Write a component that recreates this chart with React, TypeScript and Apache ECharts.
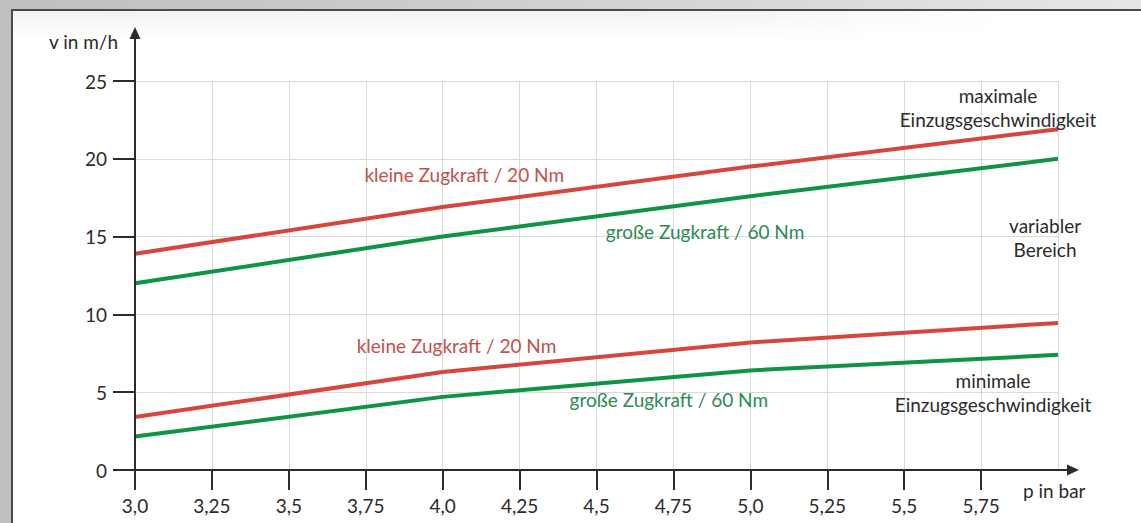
import React, { useEffect, useRef } from "react";
import * as echarts from "echarts";

// ---- data ----
const pressure = [3.0, 4.0, 5.0, 6.0];
const maxSmallForce = [13.9, 16.9, 19.5, 21.9]; // kleine Zugkraft / 20 Nm (maximal)
const maxLargeForce = [12.0, 15.0, 17.6, 20.0]; // große Zugkraft / 60 Nm (maximal)
const minSmallForce = [3.4, 6.3, 8.2, 9.45]; // kleine Zugkraft / 20 Nm (minimal)
const minLargeForce = [2.15, 4.7, 6.4, 7.4]; // große Zugkraft / 60 Nm (minimal)

const xTickValues = [3.0, 3.25, 3.5, 3.75, 4.0, 4.25, 4.5, 4.75, 5.0, 5.25, 5.5, 5.75];
const xTickLabels = ["3,0", "3,25", "3,5", "3,75", "4,0", "4,25", "4,5", "4,75", "5,0", "5,25", "5,5", "5,75"];
const yTickValues = [0, 5, 10, 15, 20, 25];
const yTickLabels = ["0", "5", "10", "15", "20", "25"];

const seriesNames = [
  "kleine Zugkraft / 20 Nm",
  "große Zugkraft / 60 Nm",
  "kleine Zugkraft / 20 Nm",
  "große Zugkraft / 60 Nm",
];

// ---- styles / layout ----
const RED = "#d8453d";
const GREEN = "#0f9447";
const RED_TEXT = "#c4504a";
const GREEN_TEXT = "#2a8c55";
const INK = "#2b2b2b";
const FONT = "Lato, 'Open Sans', sans-serif";
const FS = 19;

// annotation anchors in axis units (layout only)
const annotations = [
  { text: "kleine Zugkraft / 20 Nm", x: 4.07, y: 18.96, color: RED_TEXT },
  { text: "große Zugkraft / 60 Nm", x: 4.853, y: 15.3, color: GREEN_TEXT },
  { text: "kleine Zugkraft / 20 Nm", x: 4.045, y: 8.0, color: RED_TEXT },
  { text: "große Zugkraft / 60 Nm", x: 4.735, y: 4.5, color: GREEN_TEXT },
  { text: "maximale\nEinzugsgeschwindigkeit", x: 5.805, y: 23.3, color: INK },
  { text: "variabler\nBereich", x: 5.958, y: 14.97, color: INK },
  { text: "minimale\nEinzugsgeschwindigkeit", x: 5.789, y: 4.98, color: INK },
];

export default function App() {
  const ref = useRef<HTMLDivElement>(null);

  useEffect(() => {
    if (!ref.current) return;
    const chart = echarts.init(ref.current, null, { renderer: "svg" });

    const mk = (name: string, vals: number[], color: string) => ({
      name,
      type: "line",
      data: pressure.map((p, i) => [p, vals[i]]),
      showSymbol: false,
      symbol: "none",
      lineStyle: { color, width: 4, cap: "butt" },
      itemStyle: { color },
      z: 5,
    });

    chart.setOption({
      animation: false,
      backgroundColor: "transparent",
      textStyle: { fontFamily: FONT },
      grid: { left: 135, right: 83, top: 81, bottom: 53, containLabel: false },
      xAxis: [
        {
          type: "value",
          min: 3,
          max: 6,
          interval: 0.25,
          axisLine: { show: false },
          axisTick: { show: false },
          axisLabel: { show: false },
          splitLine: { show: true, lineStyle: { color: "#dadada", width: 1 } },
        },
        {
          type: "value",
          min: 3,
          max: 6,
          interval: 0.25,
          position: "bottom",
          axisLine: { show: false },
          splitLine: { show: false },
          axisTick: {
            show: true,
            customValues: xTickValues,
            length: 20,
            lineStyle: { color: INK, width: 2 },
          },
          axisLabel: {
            show: true,
            customValues: xTickValues,
            margin: 26,
            fontSize: FS,
            fontFamily: FONT,
            color: INK,
            formatter: (v: number) => {
              const i = xTickValues.findIndex((t) => Math.abs(t - v) < 1e-6);
              return i >= 0 ? xTickLabels[i] : "";
            },
          },
        },
      ],
      yAxis: {
        type: "value",
        min: 0,
        max: 25,
        interval: 5,
        axisLine: { show: false },
        axisTick: { show: true, length: 22, lineStyle: { color: INK, width: 2 } },
        axisLabel: {
          margin: 28,
          fontSize: FS,
          fontFamily: FONT,
          color: INK,
          formatter: (v: number) => {
            const i = yTickValues.findIndex((t) => Math.abs(t - v) < 1e-6);
            return i >= 0 ? yTickLabels[i] : "";
          },
        },
        splitLine: { show: true, lineStyle: { color: "#dadada", width: 1 } },
      },
      series: [
        mk(seriesNames[0], maxSmallForce, RED),
        mk(seriesNames[1], maxLargeForce, GREEN),
        mk(seriesNames[2], minSmallForce, RED),
        mk(seriesNames[3], minLargeForce, GREEN),
      ],
    });

    const px = (x: number, y: number) => chart.convertToPixel({ gridIndex: 0 }, [x, y]) as number[];
    const origin = px(3, 0);
    const xEnd = px(6, 0);
    const yEnd = px(3, 25);
    const ax = origin[0];
    const ay = origin[1];
    const arrowX = xEnd[0] + 21;
    const arrowY = yEnd[1] - 54;

    const graphics: any[] = [
      {
        type: "line",
        z: 10,
        shape: { x1: ax, y1: ay, x2: arrowX - 8, y2: ay },
        style: { stroke: INK, lineWidth: 2 },
      },
      {
        type: "polygon",
        z: 10,
        shape: { points: [[arrowX, ay], [arrowX - 12, ay - 5.5], [arrowX - 12, ay + 5.5]] },
        style: { fill: INK },
      },
      {
        type: "line",
        z: 10,
        shape: { x1: ax, y1: ay, x2: ax, y2: arrowY + 8 },
        style: { stroke: INK, lineWidth: 2 },
      },
      {
        type: "polygon",
        z: 10,
        shape: { points: [[ax, arrowY], [ax - 5.5, arrowY + 12], [ax + 5.5, arrowY + 12]] },
        style: { fill: INK },
      },
      {
        type: "text",
        z: 10,
        style: {
          text: "v in m/h",
          x: ax - 17,
          y: arrowY + 14,
          fill: INK,
          font: `${FS}px ${FONT}`,
          textAlign: "right",
          align: "right",
          textVerticalAlign: "middle",
          verticalAlign: "middle",
        },
      },
      {
        type: "text",
        z: 10,
        style: {
          text: "p in bar",
          x: arrowX - 56,
          y: ay + 20,
          fill: INK,
          font: `${FS}px ${FONT}`,
          textAlign: "left",
          align: "left",
          textVerticalAlign: "middle",
          verticalAlign: "middle",
        },
      },
    ];

    annotations.forEach((a) => {
      const p = px(a.x, a.y);
      graphics.push({
        type: "text",
        z: 10,
        style: {
          text: a.text,
          x: p[0],
          y: p[1],
          fill: a.color,
          font: `${FS}px ${FONT}`,
          lineHeight: 24,
          textAlign: "center",
          align: "center",
          textVerticalAlign: "middle",
          verticalAlign: "middle",
        },
      });
    });

    chart.setOption({ graphic: graphics });

    return () => chart.dispose();
  }, []);

  return (
    <div
      style={{
        position: "fixed",
        left: 0,
        top: 0,
        width: 1141,
        height: 523,
        overflow: "hidden",
        background: "linear-gradient(90deg, #bfbfbf 0%, #cdcdcd 40%, #dcdcdc 75%, #e6e6e6 100%)",
      }}
    >
      <div
        style={{
          position: "absolute",
          left: 11,
          top: 9,
          width: 1140,
          height: 520,
          background: "#ffffff",
          borderLeft: "2px solid #4a4a4a",
          borderTop: "2px solid #4a4a4a",
        }}
      />
      <div
        style={{
          position: "absolute",
          left: 13,
          top: 11,
          width: 1000,
          height: 28,
          background:
            "linear-gradient(180deg, rgba(0,0,0,0.05) 0%, rgba(0,0,0,0) 100%)",
          WebkitMaskImage: "linear-gradient(90deg, #000 0%, #000 70%, transparent 100%)",
        }}
      />
      <div ref={ref} style={{ position: "absolute", left: 0, top: 0, width: 1141, height: 523 }} />
    </div>
  );
}
